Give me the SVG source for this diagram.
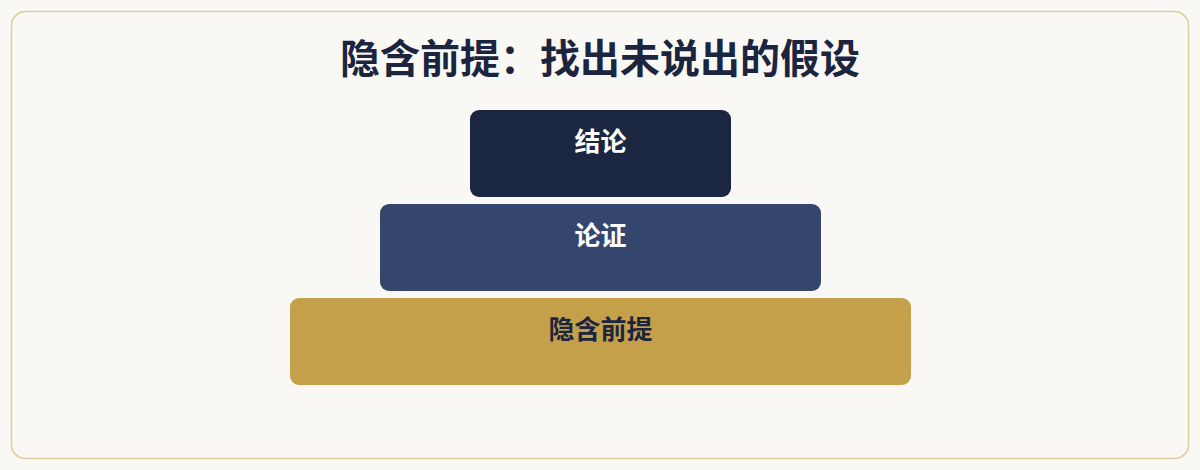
<svg xmlns="http://www.w3.org/2000/svg" width="1200" height="470" viewBox="0 0 1200 470">
  <style>
    .lbl { font-family: "Noto Sans CJK SC", "Noto Sans", sans-serif; font-weight: 700; text-anchor: middle; }
    .title { font-size: 40px; fill: #1b2540; }
    .node-label { font-size: 26px; }
  </style>
  <rect x="0" y="0" width="1200" height="470" fill="#faf8f4"/>
  <rect x="11.5" y="11.5" width="1177" height="447" rx="14" fill="#faf8f4" stroke="#dccb9f" stroke-width="1.5"/>
  <text class="lbl title" x="600" y="73">隐含前提：找出未说出的假设</text>
  <g id="connectors"></g>
  <g id="node-conclusion">
    <rect x="470" y="110" width="261" height="87" rx="9" fill="#1b2640"/>
    <text class="lbl node-label" x="600.5" y="151" fill="#ffffff">结论</text>
  </g>
  <g id="node-argument">
    <rect x="380" y="204" width="441" height="87" rx="9" fill="#34466d"/>
    <text class="lbl node-label" x="600.5" y="245" fill="#ffffff">论证</text>
  </g>
  <g id="node-assumption">
    <rect x="290" y="298" width="621" height="87" rx="9" fill="#c4a04b"/>
    <text class="lbl node-label" x="600.5" y="339" fill="#1b2540">隐含前提</text>
  </g>
</svg>
